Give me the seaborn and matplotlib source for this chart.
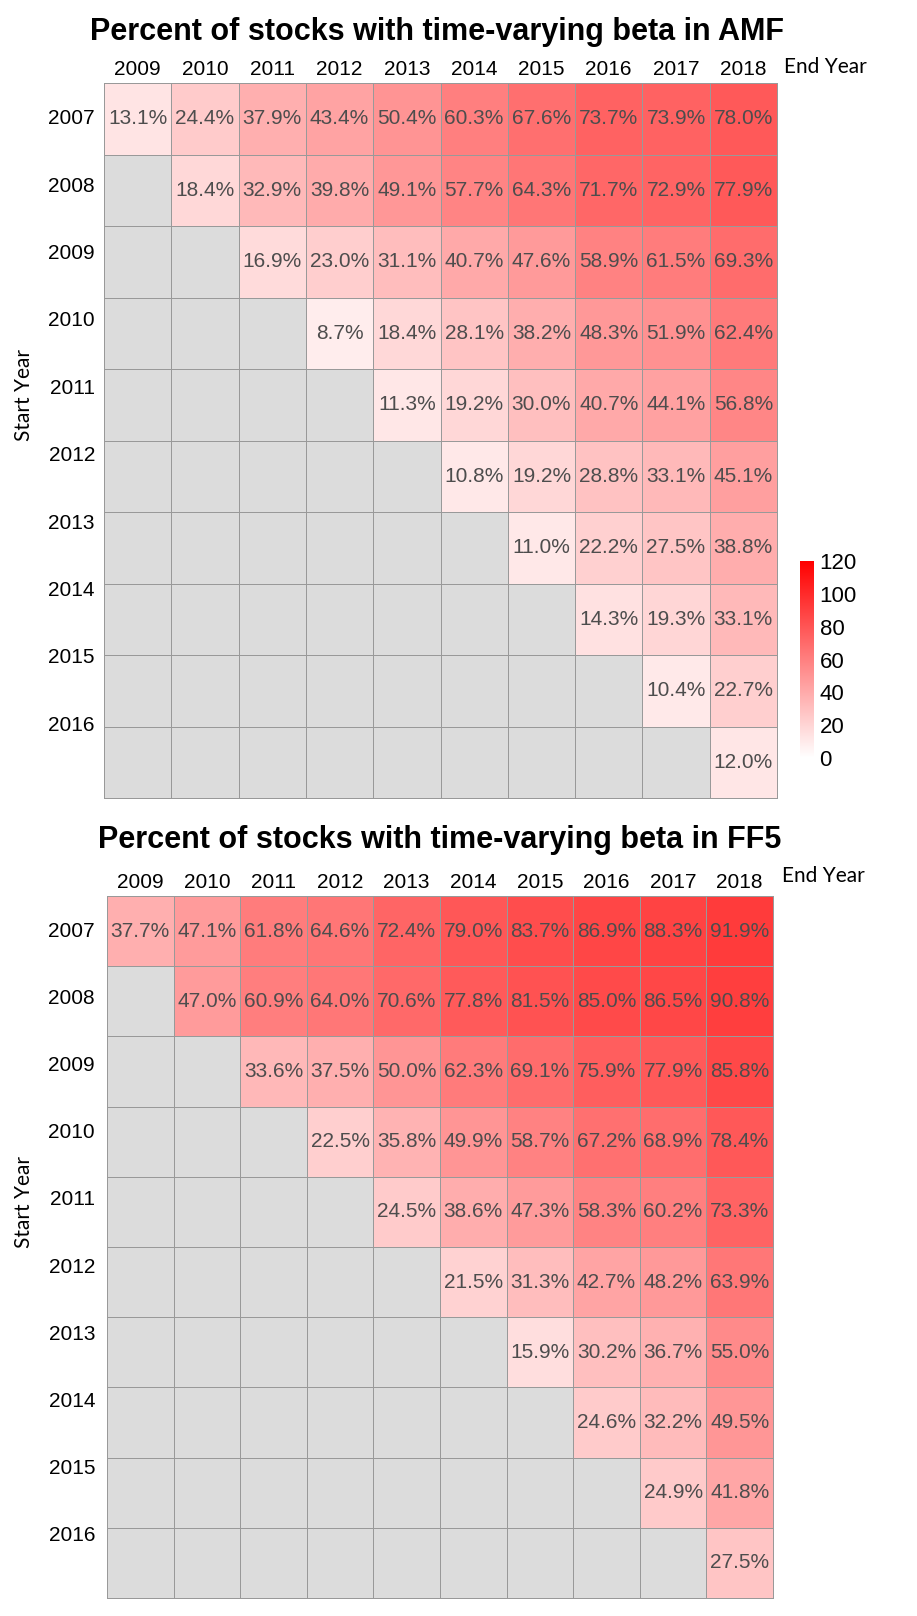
import numpy as np
import pandas as pd
import matplotlib
matplotlib.use("Agg")
import matplotlib.pyplot as plt
import seaborn as sns
from matplotlib.colors import LinearSegmentedColormap, ListedColormap

sns.set_theme(style="white")
plt.rcParams['font.family'] = ['Liberation Sans', 'DejaVu Sans']

start_years = [2007, 2008, 2009, 2010, 2011, 2012, 2013, 2014, 2015, 2016]
end_years = [2009, 2010, 2011, 2012, 2013, 2014, 2015, 2016, 2017, 2018]
N = np.nan

amf_values = [
    [13.1, 24.4, 37.9, 43.4, 50.4, 60.3, 67.6, 73.7, 73.9, 78.0],
    [N, 18.4, 32.9, 39.8, 49.1, 57.7, 64.3, 71.7, 72.9, 77.9],
    [N, N, 16.9, 23.0, 31.1, 40.7, 47.6, 58.9, 61.5, 69.3],
    [N, N, N, 8.7, 18.4, 28.1, 38.2, 48.3, 51.9, 62.4],
    [N, N, N, N, 11.3, 19.2, 30.0, 40.7, 44.1, 56.8],
    [N, N, N, N, N, 10.8, 19.2, 28.8, 33.1, 45.1],
    [N, N, N, N, N, N, 11.0, 22.2, 27.5, 38.8],
    [N, N, N, N, N, N, N, 14.3, 19.3, 33.1],
    [N, N, N, N, N, N, N, N, 10.4, 22.7],
    [N, N, N, N, N, N, N, N, N, 12.0],
]

ff5_values = [
    [37.7, 47.1, 61.8, 64.6, 72.4, 79.0, 83.7, 86.9, 88.3, 91.9],
    [N, 47.0, 60.9, 64.0, 70.6, 77.8, 81.5, 85.0, 86.5, 90.8],
    [N, N, 33.6, 37.5, 50.0, 62.3, 69.1, 75.9, 77.9, 85.8],
    [N, N, N, 22.5, 35.8, 49.9, 58.7, 67.2, 68.9, 78.4],
    [N, N, N, N, 24.5, 38.6, 47.3, 58.3, 60.2, 73.3],
    [N, N, N, N, N, 21.5, 31.3, 42.7, 48.2, 63.9],
    [N, N, N, N, N, N, 15.9, 30.2, 36.7, 55.0],
    [N, N, N, N, N, N, N, 24.6, 32.2, 49.5],
    [N, N, N, N, N, N, N, N, 24.9, 41.8],
    [N, N, N, N, N, N, N, N, N, 27.5],
]

titles = ["Percent of stocks with time-varying beta in AMF",
          "Percent of stocks with time-varying beta in FF5"]
cbar_ticks = [0, 20, 40, 60, 80, 100, 120]

W, H = 917, 1616
fig = plt.figure(figsize=(W / 100, H / 100), dpi=100)

def fr(x0, y0, x1, y1):
    return [x0 / W, 1 - y1 / H, (x1 - x0) / W, (y1 - y0) / H]

ax1 = fig.add_axes(fr(104, 83, 777, 798))
ax2 = fig.add_axes(fr(107, 896, 773, 1598))
cax = fig.add_axes(fr(800, 561, 814, 758))

cmap = LinearSegmentedColormap.from_list("wr", ["#FFFFFF", "#FF0000"])
gray = ListedColormap(["#DCDCDC"])
grid_c = "#999999"
annot_c = "#4D4D4D"
FS = 15
LW = 0.72

def draw(ax, values, title, with_cbar, ystep, ypad, title_xy, endyear_xy, startyear_xy):
    df = pd.DataFrame(values, index=start_years, columns=end_years)
    mask = df.isna()
    bg = pd.DataFrame(np.where(mask, 0.0, np.nan), index=start_years, columns=end_years)
    sns.heatmap(bg, cmap=gray, cbar=False, linewidths=LW, linecolor=grid_c, ax=ax)
    labels = df.map(lambda v: "" if pd.isna(v) else f"{v:.1f}%")
    sns.heatmap(df, cmap=cmap, vmin=0, vmax=120, annot=labels, fmt="",
                annot_kws={"color": annot_c, "fontsize": FS},
                linewidths=LW, linecolor=grid_c, ax=ax,
                cbar=with_cbar, cbar_ax=cax if with_cbar else None)
    ax.xaxis.tick_top()
    ax.set_xticks(np.arange(len(end_years)) + 0.5)
    ax.set_xticklabels([str(y) for y in end_years], fontsize=FS, color="black", rotation=0)
    ax.set_yticks([0.5 + i * ystep for i in range(len(start_years))])
    ax.set_yticklabels([str(y) for y in start_years], fontsize=FS, color="black", rotation=0)
    ax.tick_params(axis="x", length=0, pad=3)
    ax.tick_params(axis="y", length=0, pad=ypad)
    ax.set_xlabel("")
    ax.set_ylabel("")
    for s in ax.spines.values():
        s.set_visible(True)
        s.set_color(grid_c)
        s.set_linewidth(LW)
    fig.text(title_xy[0], title_xy[1], title, fontsize=22, fontweight="bold",
             ha="center", va="baseline", color="black")
    fig.text(endyear_xy[0], endyear_xy[1], "End Year", fontsize=15, family=["Lato", "DejaVu Sans"],
             ha="left", va="center", color="black")
    fig.text(startyear_xy[0], startyear_xy[1], "Start Year", fontsize=15, family=["Lato", "DejaVu Sans"],
             ha="center", va="center", rotation=90, color="black")

draw(ax1, amf_values, titles[0], True, 67.4 / 71.5, 6.5,
     (437.5 / W, 1 - 40 / H), (784 / W, 1 - 67 / H), (24 / W, 1 - 395 / H))
draw(ax2, ff5_values, titles[1], False, 67.2 / 70.2, 8.6,
     (439.5 / W, 1 - 848 / H), (782 / W, 1 - 876 / H), (24 / W, 1 - 1202 / H))

cb = ax1.collections[-1].colorbar
cb.outline.set_visible(False)
cb.set_ticks(cbar_ticks)
cb.ax.set_yticklabels([str(t) for t in cbar_ticks], fontsize=16, color="black",
                      family=["Liberation Sans", "DejaVu Sans"])
cb.ax.tick_params(length=0, pad=4)

fig.savefig("out.png", dpi=100)
